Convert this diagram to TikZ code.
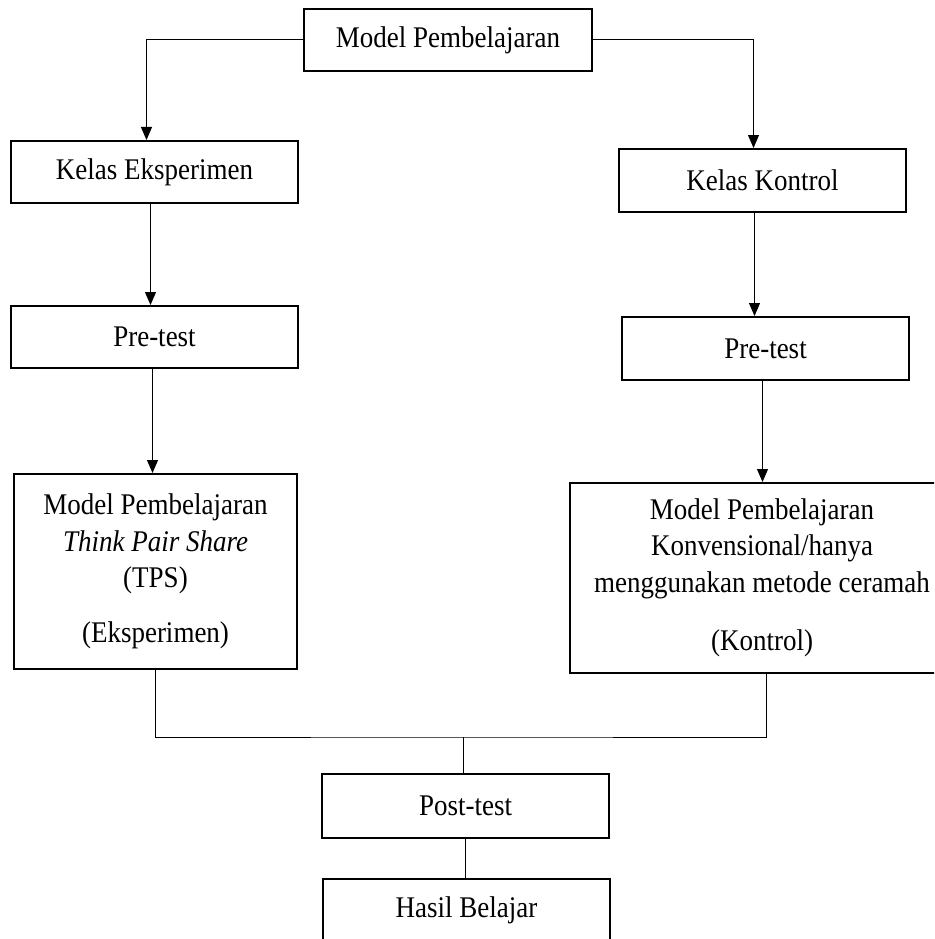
\documentclass[tikz,border=0pt]{standalone}
\usepackage{fontspec}
\setmainfont{Liberation Serif}[FakeStretch=0.9]
\usetikzlibrary{arrows.meta}

\tikzset{
   kotak/.style={draw, line width=2pt, align=center, inner sep=0pt,
      font=\fontsize{30}{36.5}\selectfont},
   panah/.style={line width=1pt, -{Triangle[length=13pt,width=11pt]}},
   garis/.style={line width=1pt}
}

\begin{document}
\begin{tikzpicture}[x=1pt, y=-1pt]
   \useasboundingbox (0,0) rectangle (934,939);
   \clip (0,0) rectangle (934,939);

   \node [kotak, minimum width=288pt, minimum height=62pt] (model)  at (448, 40)    {Model Pembelajaran};
   \node [kotak, minimum width=287pt, minimum height=62pt] (kelasE) at (154.5, 172) {Kelas Eksperimen};
   \node [kotak, minimum width=287pt, minimum height=63pt] (kelasK) at (762.5, 180.5) {Kelas Kontrol};
   \node [kotak, minimum width=287pt, minimum height=62pt] (preE)   at (154.5, 337) {Pre-test};
   \node [kotak, minimum width=287pt, minimum height=63pt] (preK)   at (765.5, 348.5) {Pre-test};
   \node [kotak, minimum width=283pt, minimum height=195pt] (tps)   at (155.5, 571.5)
      {Model Pembelajaran\\ \textit{Think Pair Share}\\ (TPS)\\[18pt] (Eksperimen)};
   \node [kotak, minimum width=384pt, minimum height=190pt] (konv)  at (762, 578)
      {Model Pembelajaran\\ Konvensional/hanya\\ menggunakan metode ceramah\\[22pt] (Kontrol)};
   \node [kotak, minimum width=287pt, minimum height=64pt] (post)   at (465.5, 806) {Post-test};
   \node [kotak, minimum width=287pt, minimum height=62pt] (hasil)  at (466.5, 910) {Hasil Belajar};

   \coordinate (gabung) at (463, 737);

   \draw [panah] (model.west) -| ([xshift=-8pt]kelasE.north);
   \draw [panah] (model.east) -| ([xshift=-9pt]kelasK.north);
   \draw [panah] ([xshift=-4pt]kelasE.south) -- ([xshift=-4pt]kelasE.south |- preE.north);
   \draw [panah] ([xshift=-8pt]kelasK.south) -- ([xshift=-8pt]kelasK.south |- preK.north);
   \draw [panah] ([xshift=-2pt]preE.south) -- ([xshift=-2pt]preE.south |- tps.north);
   \draw [panah] ([xshift=-3pt]preK.south) -- ([xshift=-3pt]preK.south |- konv.north);
   \draw [garis] (tps.south) |- (gabung) -| ([xshift=4pt]konv.south);
   \draw [garis] (gabung) -- (gabung |- post.north);
   \draw [garis] (post.south) -- (post.south |- hasil.north);
\end{tikzpicture}
\end{document}
